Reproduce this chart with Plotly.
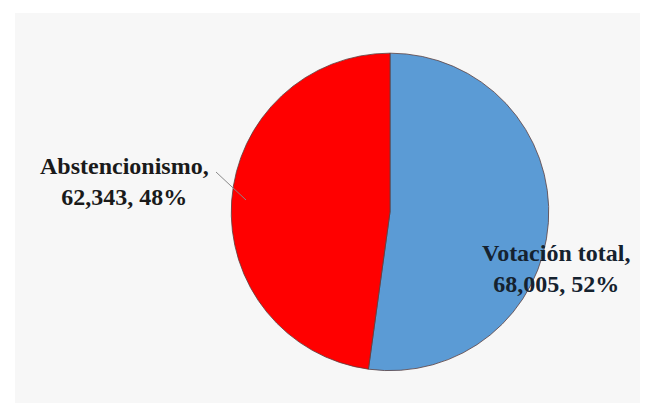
import plotly.graph_objects as go

labels = ["Votación total", "Abstencionismo"]
values = [68005, 62343]
colors = ["#5b9bd5", "#ff0000"]

total = sum(values)
pcts = [round(v / total * 100) for v in values]
texts = [f"<b>{l},<br>{v:,}, {p}%</b>" for l, v, p in zip(labels, values, pcts)]

fig = go.Figure()
fig.add_trace(go.Pie(
    labels=labels,
    values=values,
    sort=False,
    direction="clockwise",
    rotation=0,
    marker=dict(colors=colors, line=dict(color="#5a4040", width=0.8)),
    textinfo="none",
    hoverinfo="label+value+percent",
    showlegend=False,
    domain=dict(x=[0.346, 0.854], y=[0.082, 0.898]),
))

font_kw = dict(family="Liberation Serif, Times New Roman, serif", size=24)
fig.add_annotation(x=0.175, y=0.568, xref="paper", yref="paper", text=texts[1],
                   showarrow=False, font=dict(color="#1a1a1a", **font_kw),
                   align="center", xanchor="center", yanchor="middle")
fig.add_annotation(x=0.865, y=0.345, xref="paper", yref="paper", text=texts[0],
                   showarrow=False, font=dict(color="#15222f", **font_kw),
                   align="center", xanchor="center", yanchor="middle")

fig.update_layout(
    width=652, height=408,
    margin=dict(l=7, r=20, t=5, b=13),
    paper_bgcolor="white",
    shapes=[
        dict(type="rect", xref="paper", yref="paper", x0=0, x1=1, y0=0, y1=1,
             fillcolor="#f7f7f7", line=dict(width=0), layer="below"),
        dict(type="line", xref="paper", yref="paper",
             x0=(216 - 15) / 625, y0=1 - (172 - 13) / 390,
             x1=(246 - 15) / 625, y1=1 - (200 - 13) / 390,
             line=dict(color="#8a8a8a", width=1)),
    ],
)

fig.write_html("out.html")
